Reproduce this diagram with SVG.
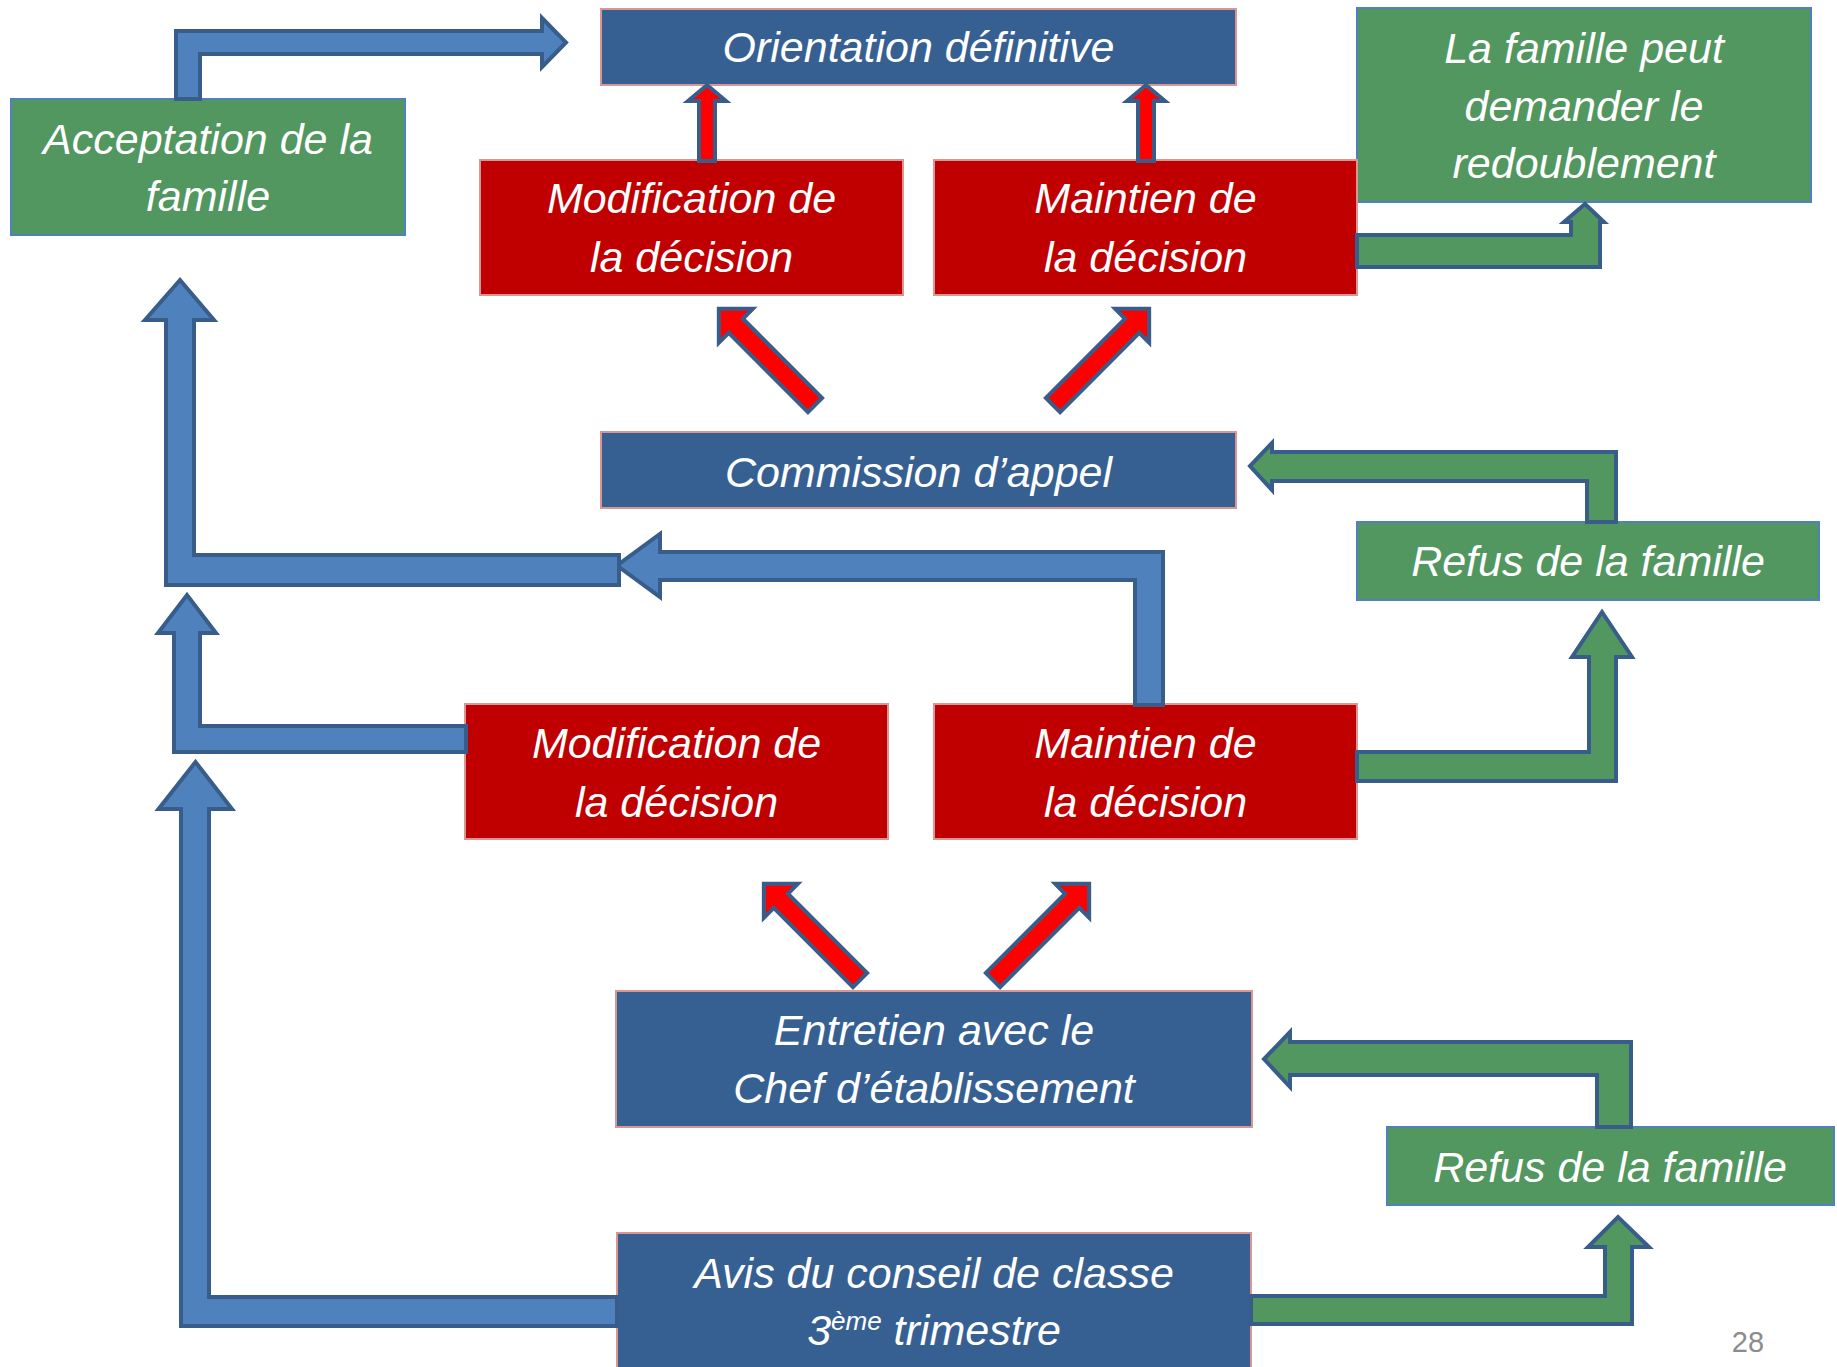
<svg xmlns="http://www.w3.org/2000/svg" width="1837" height="1367" viewBox="0 0 1837 1367">
<style>
.bg{fill:#ffffff}
.nb{fill:#376092;stroke:#D99694;stroke-width:2}
.nr{fill:#C00000;stroke:#D99694;stroke-width:2}
.ng{fill:#529660;stroke:#4F81BD;stroke-width:2}
.t{font-family:"Liberation Sans",Arial,sans-serif;font-style:italic;font-size:43px;fill:#ffffff;text-anchor:middle}
.ab{fill:#4F81BD;stroke:#385D8A;stroke-width:4;stroke-linejoin:miter}
.ag{fill:#529660;stroke:#385D8A;stroke-width:4;stroke-linejoin:miter}
.ar{fill:#FF0000;stroke:#385D8A;stroke-width:4;stroke-linejoin:miter}
.pn{font-family:"Liberation Sans",Arial,sans-serif;font-size:29px;fill:#8C8C8C;text-anchor:middle}
</style>
<defs>
<path id="diag" d="M0,-10 L112,-10 L112,-24 L136,0 L112,24 L112,10 L0,10 Z"/>
</defs>
<rect class="bg" x="0" y="0" width="1837" height="1367"/>

<g id="orientation">
<rect class="nb" x="601" y="9" width="635" height="76"/>
<text class="t" x="918.5" y="62">Orientation définitive</text>
</g>
<g id="acceptation">
<rect class="ng" x="11" y="99" width="394" height="136"/>
<text class="t" x="208" y="154">Acceptation de la</text>
<text class="t" x="208" y="211">famille</text>
</g>
<g id="famille-redoublement">
<rect class="ng" x="1357" y="8" width="454" height="194"/>
<text class="t" x="1584" y="63">La famille peut</text>
<text class="t" x="1584" y="121">demander le</text>
<text class="t" x="1584" y="178">redoublement</text>
</g>
<g id="modification-appel">
<rect class="nr" x="480" y="160" width="423" height="135"/>
<text class="t" x="691.5" y="213">Modification de</text>
<text class="t" x="691.5" y="272">la décision</text>
</g>
<g id="maintien-appel">
<rect class="nr" x="934" y="160" width="423" height="135"/>
<text class="t" x="1145.5" y="213">Maintien de</text>
<text class="t" x="1145.5" y="272">la décision</text>
</g>
<g id="commission">
<rect class="nb" x="601" y="432" width="635" height="76"/>
<text class="t" x="918.5" y="487">Commission d’appel</text>
</g>
<g id="refus-haut">
<rect class="ng" x="1357" y="522" width="462" height="78"/>
<text class="t" x="1588" y="576">Refus de la famille</text>
</g>
<g id="modification-entretien">
<rect class="nr" x="465" y="704" width="423" height="135"/>
<text class="t" x="676.5" y="758">Modification de</text>
<text class="t" x="676.5" y="817">la décision</text>
</g>
<g id="maintien-entretien">
<rect class="nr" x="934" y="704" width="423" height="135"/>
<text class="t" x="1145.5" y="758">Maintien de</text>
<text class="t" x="1145.5" y="817">la décision</text>
</g>
<g id="entretien">
<rect class="nb" x="616" y="991" width="636" height="136"/>
<text class="t" x="934" y="1045">Entretien avec le</text>
<text class="t" x="934" y="1103">Chef d’établissement</text>
</g>
<g id="refus-bas">
<rect class="ng" x="1387" y="1127" width="447" height="78"/>
<text class="t" x="1610" y="1182">Refus de la famille</text>
</g>
<g id="avis">
<rect class="nb" x="617" y="1233" width="634" height="145"/>
<text class="t" x="934" y="1288">Avis du conseil de classe</text>
<text class="t" x="934" y="1345">3<tspan font-size="26" baseline-shift="super">ème</tspan> trimestre</text>
</g>

<g id="connectors">
<path class="ab" d="M176,99 L176,31 L542,31 L542,18 L566,42.5 L542,67 L542,54 L200,54 L200,99 Z"/>
<path class="ab" d="M1135,705 L1135,580 L660,580 L660,597 L617,565.5 L660,534 L660,552 L1163,552 L1163,705 Z"/>
<path class="ab" d="M619,555 L619,585 L166,585 L166,320 L145,320 L180,280 L214,320 L194,320 L194,555 Z"/>
<path class="ab" d="M466,726 L200,726 L200,633 L216,633 L187,595 L158,633 L174,633 L174,752 L466,752 Z"/>
<path class="ab" d="M617,1297 L209,1297 L209,809 L232,809 L195.5,762 L158.5,809 L181,809 L181,1326 L617,1326 Z"/>
<path class="ag" d="M1357,235 L1571,235 L1571,222 L1564,222 L1585,204 L1604,222 L1600,222 L1600,267 L1357,267 Z"/>
<path class="ag" d="M1587,522 L1587,481 L1272,481 L1272,490 L1250,466 L1272,443 L1272,452 L1616,452 L1616,522 Z"/>
<path class="ag" d="M1357,752 L1589,752 L1589,657 L1572,657 L1602,612 L1632,657 L1616,657 L1616,781 L1357,781 Z"/>
<path class="ag" d="M1597,1127 L1597,1075 L1290,1075 L1290,1087 L1264,1059 L1290,1032 L1290,1042 L1631,1042 L1631,1127 Z"/>
<path class="ag" d="M1251,1296 L1605,1296 L1605,1247 L1588,1247 L1618,1217 L1649,1247 L1632,1247 L1632,1324 L1251,1324 Z"/>
<path class="ar" d="M699,161 L699,101 L688,101 L707,85 L726,101 L715,101 L715,161 Z"/>
<path class="ar" d="M1138,161 L1138,101 L1127,101 L1146,85 L1165,101 L1154,101 L1154,161 Z"/>
<use class="ar" href="#diag" transform="translate(815,405) rotate(-135)"/>
<use class="ar" href="#diag" transform="translate(1053,405) rotate(-45)"/>
<use class="ar" href="#diag" transform="translate(860,980) rotate(-135)"/>
<use class="ar" href="#diag" transform="translate(993,980) rotate(-45)"/>
</g>

<text class="pn" x="1748" y="1352">28</text>
</svg>
